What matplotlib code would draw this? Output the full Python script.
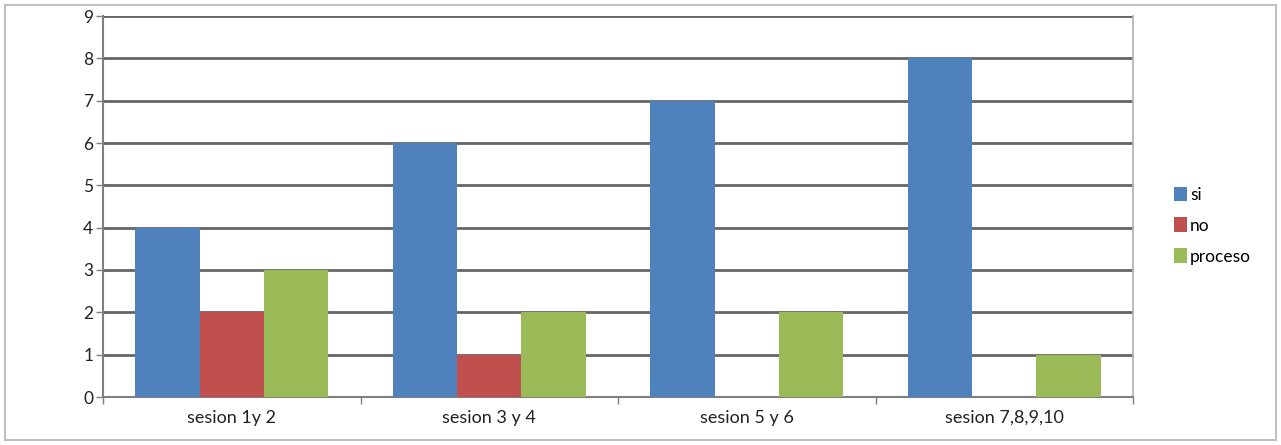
import matplotlib
matplotlib.use("Agg")
import matplotlib.pyplot as plt
import numpy as np
from matplotlib.patches import Rectangle

categories = ["sesion 1y 2", "sesion 3 y 4", "sesion 5 y 6", "sesion 7,8,9,10"]
series_names = ["si", "no", "proceso"]
si = [4, 6, 7, 8]
no = [2, 1, 0, 0]
proceso = [3, 2, 2, 1]
colors = ["#4F81BD", "#C0504D", "#9BBB59"]

plt.rcParams['font.family'] = ['Lato', 'DejaVu Sans']

fig = plt.figure(figsize=(12.81, 4.45), dpi=100)
ax = fig.add_axes([103/1281, 48/445, 1030/1281, 381/445])

x = np.arange(len(categories))
w = 0.25
for i, (vals, name) in enumerate(zip([si, no, proceso], series_names)):
    ax.bar(x + (i - 1) * w, vals, width=w, color=colors[i], label=name, zorder=3)

ax.set_xlim(-0.5, len(categories) - 0.5)
ax.set_ylim(0, 9)
ax.set_yticks(range(0, 10))
ax.yaxis.grid(True, color="#666666", linewidth=2.0, zorder=0)
ax.set_axisbelow(True)

ax.set_xticks(np.arange(-0.5, len(categories), 1.0))
ax.set_xticklabels([])
ax.set_xticks(x, minor=True)
ax.set_xticklabels(categories, minor=True, fontsize=13, color="#222222")
ax.tick_params(axis='x', which='minor', length=0, pad=9)
ax.tick_params(axis='x', which='major', length=5, width=1, color="#808080")
ax.tick_params(axis='y', length=5, width=1, color="#808080", labelsize=12.5, labelcolor="#222222", pad=2)

for s in ["left", "bottom"]:
    ax.spines[s].set_color("#808080")
    ax.spines[s].set_linewidth(1.5)
ax.spines["right"].set_color("#b0b0b0")
ax.spines["right"].set_linewidth(1.2)
ax.spines["top"].set_visible(False)

leg = ax.legend(loc="center left", bbox_to_anchor=(1.025, 0.45), frameon=False,
                fontsize=12.5, handlelength=0.75, handleheight=0.9, handletextpad=0.15,
                labelspacing=0.85)

fig.patches.append(Rectangle((5/1281, 5/445), 1271/1281, 435/445, transform=fig.transFigure,
                             fill=False, edgecolor="#c0c0c0", linewidth=1.5))

fig.savefig("out.png", dpi=100)
